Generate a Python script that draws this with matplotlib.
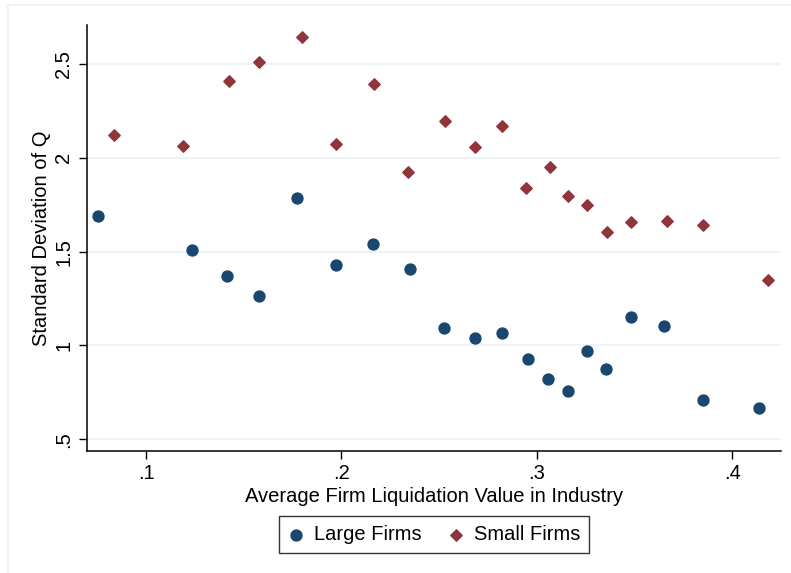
import matplotlib
matplotlib.use("Agg")
import matplotlib.pyplot as plt
import matplotlib.patches as patches

plt.rcParams["font.family"] = ["Liberation Sans", "DejaVu Sans"]

# Average firm liquidation value in industry
large_x = [0.0754, 0.1235, 0.1414, 0.1578, 0.1772, 0.1972, 0.2161, 0.2350, 0.2524, 0.2683,
           0.2821, 0.2954, 0.3056, 0.3159, 0.3256, 0.3353, 0.3481, 0.3650, 0.3849, 0.4136]
large_y = [1.689, 1.508, 1.369, 1.263, 1.785, 1.428, 1.540, 1.407, 1.092, 1.039,
           1.065, 0.927, 0.820, 0.756, 0.969, 0.873, 1.151, 1.103, 0.708, 0.665]

small_x = [0.0836, 0.1189, 0.1425, 0.1578, 0.1798, 0.1972, 0.2166, 0.2340, 0.2529, 0.2683,
           0.2821, 0.2944, 0.3067, 0.3159, 0.3256, 0.3358, 0.3481, 0.3665, 0.3849, 0.4182]
small_y = [2.121, 2.063, 2.409, 2.511, 2.644, 2.073, 2.393, 1.924, 2.196, 2.057,
           2.169, 1.839, 1.951, 1.796, 1.748, 1.604, 1.657, 1.663, 1.641, 1.348]

xticks = [0.1, 0.2, 0.3, 0.4]
xtick_labels = [".1", ".2", ".3", ".4"]
yticks = [0.5, 1, 1.5, 2, 2.5]
ytick_labels = [".5", "1", "1.5", "2", "2.5"]

navy = "#1a476f"
maroon = "#90353b"
grid_col = "#eaf2f3"

fig = plt.figure(figsize=(7.91, 5.73), dpi=100)
ax = fig.add_axes([0.110, 0.2129, 0.877, 0.7435])

# light outer frame like Stata's graph region
fig.patches.append(patches.Rectangle((8 / 791, -0.1), 1.2, 1 - 5 / 573 + 0.1,
                                     transform=fig.transFigure, fill=False,
                                     edgecolor=grid_col, linewidth=1.2))

ax.scatter(large_x, large_y, s=62, marker="o", color=navy, label="Large Firms", zorder=3)
ax.scatter(small_x, small_y, s=34, marker="D", color=maroon, label="Small Firms", zorder=3)

ax.set_xlim(0.0698, 0.4248)
ax.set_ylim(0.4377, 2.708)
ax.set_xticks(xticks)
ax.set_xticklabels(xtick_labels)
ax.set_yticks(yticks)
ax.set_yticklabels(ytick_labels, rotation=90, va="center")
ax.tick_params(labelsize=14.5, length=6, width=1, color="black")
ax.tick_params(axis="y", pad=4)
ax.yaxis.grid(True, color=grid_col, linewidth=1.2)
ax.set_axisbelow(True)

for side in ["top", "right"]:
    ax.spines[side].set_visible(False)
ax.spines["left"].set_linewidth(1.1)
ax.spines["bottom"].set_linewidth(1.1)

ax.set_xlabel("Average Firm Liquidation Value in Industry", fontsize=14.5, labelpad=3)
ax.set_ylabel("Standard Deviation of Q", fontsize=14.5, labelpad=2.5)

leg = ax.legend(loc="upper center", bbox_to_anchor=(0.5, -0.152), ncol=2,
                fontsize=14.5, frameon=True, fancybox=False, edgecolor="black",
                handlelength=0.8, handletextpad=0.5, columnspacing=1.3,
                borderpad=0.45, borderaxespad=0, scatterpoints=1)
leg.get_frame().set_linewidth(1.0)

fig.savefig("out.png", dpi=100)
